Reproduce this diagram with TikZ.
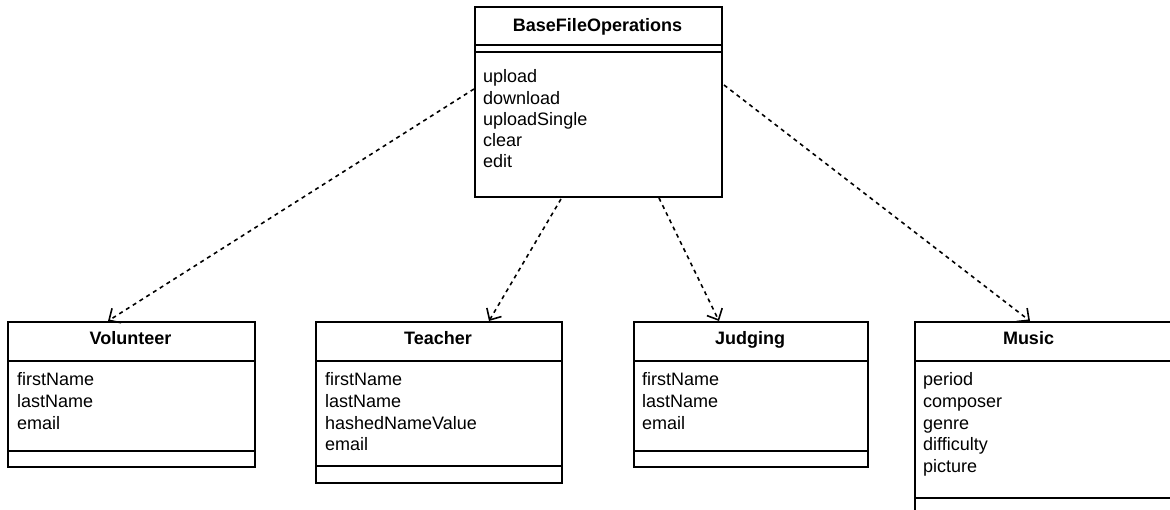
\documentclass[tikz,border=0pt]{standalone}
\usepackage{fontspec}
\setmainfont{Liberation Sans}
\usetikzlibrary{arrows.meta}
\begin{document}
\begin{tikzpicture}[x=1pt,y=-1pt,
  cls/.style={draw, line width=2pt, rectangle, anchor=north west, inner sep=0pt},
  ttl/.style={font=\fontsize{18}{21.5}\selectfont\bfseries, anchor=base, inner sep=0pt},
  attr/.style={font=\fontsize{18}{21.5}\selectfont, anchor=base west, inner sep=0pt},
  sepline/.style={line width=2pt},
  dep/.style={line width=1.6pt, dash pattern=on 4pt off 4pt,
    -{Straight Barb[length=9pt,width=17pt,line width=1.6pt]}}]
\useasboundingbox (0,0) rectangle (1170,510);
\fill[white] (0,0) rectangle (1170,510);
\clip (0,0) rectangle (1170,510);

% BaseFileOperations
\node[cls, minimum width=247pt, minimum height=190pt] (bfo) at (474,6) {};
\draw[sepline] (474,45) -- (721,45);
\draw[sepline] (474,52) -- (721,52);
\node[ttl] (bfo-t) at (597.5,32) {BaseFileOperations};
\foreach \t [count=\i] in {upload,download,uploadSingle,clear,edit}
  \node[attr] (bfo-a\i) at (483,{83+21.2*(\i-1)}) {\t};

% Volunteer
\node[cls, minimum width=247pt, minimum height=145pt] (vol) at (7,321) {};
\draw[sepline] (7,361) -- (254,361);
\draw[sepline] (7,451) -- (254,451);
\node[ttl] (vol-t) at (130.5,345) {Volunteer};
\foreach \t [count=\i] in {firstName,lastName,email}
  \node[attr] (vol-a\i) at (17,{386+21.5*(\i-1)}) {\t};

% Teacher
\node[cls, minimum width=246pt, minimum height=161pt] (tea) at (315,321) {};
\draw[sepline] (315,361) -- (561,361);
\draw[sepline] (315,466) -- (561,466);
\node[ttl] (tea-t) at (438,345) {Teacher};
\foreach \t [count=\i] in {firstName,lastName,hashedNameValue,email}
  \node[attr] (tea-a\i) at (325,{386+21.5*(\i-1)}) {\t};

% Judging
\node[cls, minimum width=234pt, minimum height=145pt] (jud) at (633,321) {};
\draw[sepline] (633,361) -- (867,361);
\draw[sepline] (633,451) -- (867,451);
\node[ttl] (jud-t) at (750,345) {Judging};
\foreach \t [count=\i] in {firstName,lastName,email}
  \node[attr] (jud-a\i) at (642,{386+21.5*(\i-1)}) {\t};

% Music (cut off at right/bottom)
\node[cls, minimum width=270pt, minimum height=220pt] (mus) at (914,321) {};
\draw[sepline] (914,361) -- (1184,361);
\draw[sepline] (914,498) -- (1184,498);
\node[ttl] (mus-t) at (1028.5,345) {Music};
\foreach \t [count=\i] in {period,composer,genre,difficulty,picture}
  \node[attr] (mus-a\i) at (923,{386+21.5*(\i-1)}) {\t};

% connector ends
\coordinate (v-s) at (474,89);
\coordinate (v-e) at (108,321);
\coordinate (t-s) at (561,199);
\coordinate (t-e) at (489,321);
\coordinate (j-s) at (659,198);
\coordinate (j-e) at (719,321);
\coordinate (m-s) at (724,85);
\coordinate (m-e) at (1030,321);

\draw[dep] (v-s) -- (v-e);
\draw[dep] (t-s) -- (t-e);
\draw[dep] (j-s) -- (j-e);
\draw[dep] (m-s) -- (m-e);
\end{tikzpicture}
\end{document}
